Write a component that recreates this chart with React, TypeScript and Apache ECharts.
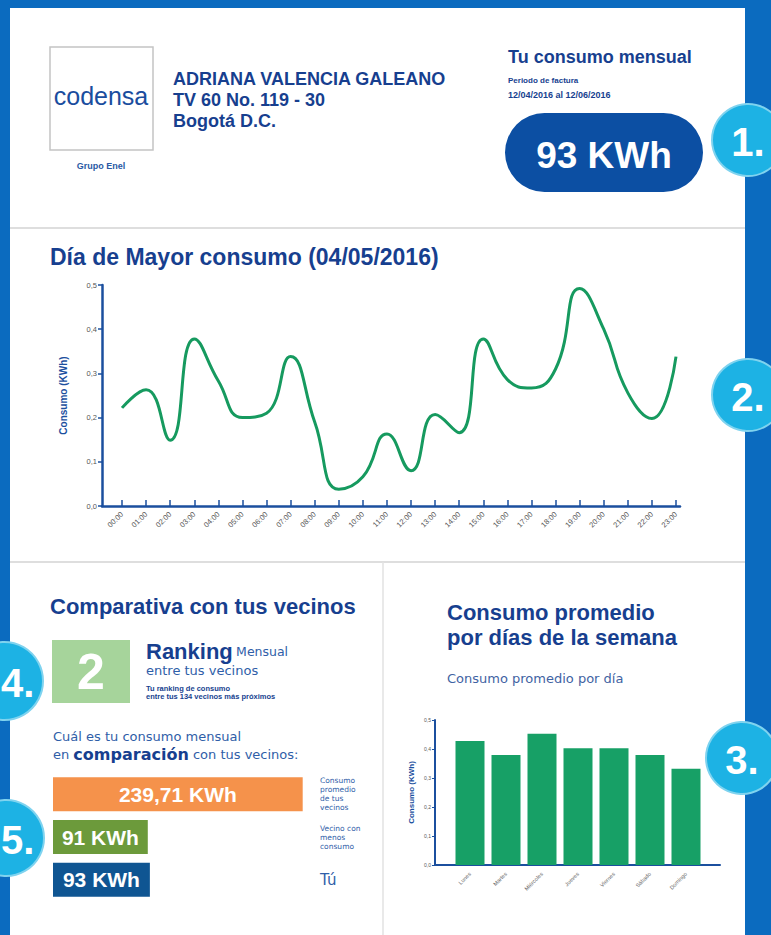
import React, { useEffect, useRef } from "react";
import * as echarts from "echarts";

// ---------- DATA ----------
const hours = [
  "00:00", "01:00", "02:00", "03:00", "04:00", "05:00", "06:00", "07:00",
  "08:00", "09:00", "10:00", "11:00", "12:00", "13:00", "14:00", "15:00",
  "16:00", "17:00", "18:00", "19:00", "20:00", "21:00", "22:00", "23:00",
];
const hourlyConsumption = [
  0.222, 0.263, 0.149, 0.378, 0.283, 0.2, 0.21, 0.338,
  0.19, 0.038, 0.066, 0.163, 0.08, 0.207, 0.166, 0.378,
  0.286, 0.267, 0.31, 0.492, 0.4, 0.256, 0.198, 0.338,
];
const weekDays = ["Lunes", "Martes", "Miércoles", "Jueves", "Viernes", "Sábado", "Domingo"];
const weekdayAverage = [0.428, 0.379, 0.453, 0.403, 0.403, 0.379, 0.332];
const comparisonLabels = ["Consumo\npromedio\nde tus\nvecinos", "Vecino con\nmenos\nconsumo", "Tú"];
const comparisonValues = [239.71, 91, 93];
const monthlyConsumption = "93 KWh";
const rankingPosition = "2";

// ---------- STYLES ----------
const TITLE = '"Liberation Sans", Arial, sans-serif';
const BODY = '"DejaVu Sans", "Liberation Sans", sans-serif';
const DARK = "#173f8f";
const MID = "#2f5ea8";
const FRAME = "#0b6bbf";
const CYAN = "#1db2e4";
const AXIS = "#1b4f9e";
const comparisonColors = ["#f5924b", "#6c9a3b", "#0f5592"];

const fmtComma = (v: number) => v.toFixed(1).replace(".", ",");

function txt(x: number, y: number, text: string, font: string, fill: string, align = "left", extra: any = {}) {
  return {
    type: "text",
    x,
    y,
    z: 10,
    style: { text, font, fill, align, verticalAlign: "middle", ...extra },
  };
}

function badge(cx: number, cy: number, r: number, label: string, tx?: number) {
  return [
    { type: "circle", z: 50, shape: { cx, cy, r }, style: { fill: CYAN, stroke: "#7fd3ef", lineWidth: 2 } },
    {
      type: "text",
      z: 51,
      x: tx === undefined ? cx : tx,
      y: cy + 2,
      style: {
        text: label,
        font: `bold 40px ${TITLE}`,
        fill: "#ffffff",
        align: tx === undefined ? "center" : "left",
        verticalAlign: "middle",
      },
    },
  ];
}

export default function App() {
  const ref = useRef<HTMLDivElement>(null);

  useEffect(() => {
    if (!ref.current) return;
    const chart = echarts.init(ref.current, undefined, { renderer: "svg" });

    const graphic: any[] = [
      { type: "rect", z: 0, shape: { x: 10, y: 8, width: 735, height: 940 }, style: { fill: "#ffffff" } },
      { type: "line", z: 1, shape: { x1: 10, y1: 228, x2: 745, y2: 228 }, style: { stroke: "#dedede", lineWidth: 2 } },
      { type: "line", z: 1, shape: { x1: 10, y1: 562, x2: 745, y2: 562 }, style: { stroke: "#dedede", lineWidth: 2 } },
      { type: "line", z: 1, shape: { x1: 383, y1: 562, x2: 383, y2: 935 }, style: { stroke: "#e2e2e2", lineWidth: 1.5 } },
      // logo
      { type: "rect", z: 2, shape: { x: 50, y: 47, width: 103, height: 103 }, style: { fill: "#fff", stroke: "#c4c4c4", lineWidth: 1.5 } },
      txt(101, 96, "codensa", `25px "Liberation Sans Narrow", ${TITLE}`, "#1a4d9e", "center"),
      txt(101, 166, "Grupo Enel", `bold 9px ${TITLE}`, "#2a5aa5", "center"),
      // address
      txt(173, 79, "ADRIANA VALENCIA GALEANO", `bold 18px ${TITLE}`, DARK),
      txt(173, 100, "TV 60 No. 119 - 30", `bold 18px ${TITLE}`, DARK),
      txt(173, 121, "Bogotá D.C.", `bold 18px ${TITLE}`, DARK),
      // monthly
      txt(508, 57, "Tu consumo mensual", `bold 18px ${TITLE}`, DARK),
      txt(508, 80, "Periodo de factura", `bold 8px ${TITLE}`, DARK),
      txt(508, 95, "12/04/2016 al 12/06/2016", `bold 9px ${TITLE}`, DARK),
      { type: "rect", z: 2, shape: { x: 505, y: 113, width: 198, height: 79, r: 39.5 }, style: { fill: "#0c4fa3" } },
      txt(604, 155, monthlyConsumption, `bold 37px ${TITLE}`, "#ffffff", "center"),
      // line chart title
      txt(50, 257, "Día de Mayor consumo (04/05/2016)", `bold 23px ${TITLE}`, DARK),
      // comparison block
      txt(50, 606, "Comparativa con tus vecinos", `bold 22px ${TITLE}`, DARK),
      { type: "rect", z: 2, shape: { x: 52, y: 640, width: 78, height: 63 }, style: { fill: "#a6d49b" } },
      txt(91, 672, rankingPosition, `bold 50px ${TITLE}`, "#ffffff", "center"),
      {
        type: "text",
        z: 10,
        x: 146,
        y: 651,
        style: {
          text: "{a|Ranking} {b|Mensual}",
          verticalAlign: "middle",
          rich: {
            a: { fontFamily: TITLE, fontWeight: "bold", fontSize: 22, fill: DARK, color: DARK },
            b: { fontFamily: BODY, fontSize: 12.5, fill: MID, color: MID },
          },
        },
      },
      txt(146, 670, "entre tus vecinos", `13px ${BODY}`, MID),
      txt(146, 688, "Tu ranking de consumo", `bold 7.5px ${TITLE}`, DARK),
      txt(146, 696, "entre tus 134 vecinos más próximos", `bold 7.5px ${TITLE}`, DARK),
      txt(53, 736, "Cuál es tu consumo mensual", `13px ${BODY}`, MID),
      {
        type: "text",
        z: 10,
        x: 53,
        y: 754,
        style: {
          text: "{n|en }{b|comparación}{n| con tus vecinos:}",
          verticalAlign: "middle",
          rich: {
            n: { fontFamily: BODY, fontSize: 13, fill: MID, color: MID },
            b: { fontFamily: BODY, fontWeight: "bold", fontSize: 16, fill: DARK, color: DARK },
          },
        },
      },
      // weekly block
      txt(447, 612, "Consumo promedio", `bold 22px ${TITLE}`, DARK),
      txt(447, 637, "por días de la semana", `bold 22px ${TITLE}`, DARK),
      txt(447, 678, "Consumo promedio por día", `13px ${BODY}`, "#3f63a3"),
      ...badge(748, 140, 36, "1."),
      ...badge(748, 395, 36, "2."),
      ...badge(742, 758, 36, "3."),
      ...badge(4, 681, 39, "4.", 1),
      ...badge(6, 838, 38, "5.", 1),
    ];

    const option: any = {
      animation: false,
      backgroundColor: FRAME,
      graphic,
      grid: [
        { left: 122, top: 285, width: 554, height: 221 },
        { left: 102, top: 285, width: 578, height: 221 },
        { left: 452, top: 720, width: 252, height: 145 },
        { left: 435, top: 720, width: 285, height: 145 },
        { left: 53, top: 773, width: 250, height: 128 },
      ],
      xAxis: [
        {
          gridIndex: 0,
          type: "category",
          data: hours,
          boundaryGap: false,
          axisLine: { show: false },
          axisTick: { show: true, inside: true, length: 6, lineStyle: { color: AXIS, width: 1.5 } },
          axisLabel: { interval: 0, rotate: 45, fontSize: 7.5, color: "#555", fontFamily: TITLE, margin: 7 },
          splitLine: { show: false },
        },
        {
          gridIndex: 1,
          type: "value",
          min: 0,
          max: 1,
          axisLine: { show: true, lineStyle: { color: AXIS, width: 2.5 } },
          axisTick: { show: false },
          axisLabel: { show: false },
          splitLine: { show: false },
        },
        {
          gridIndex: 2,
          type: "category",
          data: weekDays,
          axisLine: { show: false },
          axisTick: { show: false },
          axisLabel: { interval: 0, rotate: 45, fontSize: 5.5, color: "#666", fontFamily: TITLE, margin: 8 },
          splitLine: { show: false },
        },
        {
          gridIndex: 3,
          type: "value",
          min: 0,
          max: 1,
          axisLine: { show: true, lineStyle: { color: AXIS, width: 2 } },
          axisTick: { show: false },
          axisLabel: { show: false },
          splitLine: { show: false },
        },
        {
          gridIndex: 4,
          type: "value",
          min: 0,
          max: 240,
          show: false,
          splitLine: { show: false },
        },
      ],
      yAxis: [
        { gridIndex: 0, type: "value", min: 0, max: 0.5, show: false, splitLine: { show: false } },
        {
          gridIndex: 1,
          type: "value",
          min: 0,
          max: 0.5,
          interval: 0.1,
          name: "Consumo (KWh)",
          nameLocation: "middle",
          nameRotate: 90,
          nameGap: 34,
          nameTextStyle: { fontFamily: TITLE, fontWeight: "bold", fontSize: 10, color: AXIS },
          axisLine: { show: true, lineStyle: { color: AXIS, width: 2.5 } },
          axisTick: { show: true, length: 4, lineStyle: { color: AXIS, width: 1.5 } },
          axisLabel: { fontSize: 7.5, color: "#555", fontFamily: TITLE, margin: 5, formatter: fmtComma },
          splitLine: { show: false },
        },
        { gridIndex: 2, type: "value", min: 0, max: 0.5, show: false, splitLine: { show: false } },
        {
          gridIndex: 3,
          type: "value",
          min: 0,
          max: 0.5,
          interval: 0.1,
          name: "Consumo (KWh)",
          nameLocation: "middle",
          nameRotate: 90,
          nameGap: 20,
          nameTextStyle: { fontFamily: TITLE, fontWeight: "bold", fontSize: 8, color: AXIS },
          axisLine: { show: true, lineStyle: { color: AXIS, width: 2 } },
          axisTick: { show: true, length: 3, lineStyle: { color: AXIS, width: 1 } },
          axisLabel: { fontSize: 5, color: "#555", fontFamily: TITLE, margin: 4, formatter: fmtComma },
          splitLine: { show: false },
        },
        {
          gridIndex: 4,
          type: "category",
          data: comparisonLabels,
          inverse: true,
          position: "right",
          axisLine: { show: false },
          axisTick: { show: false },
          axisLabel: {
            margin: 17,
            align: "left",
            formatter: (v: string) => (v === "Tú" ? `{big|${v}}` : `{small|${v}}`),
            rich: {
              big: { fontFamily: BODY, fontSize: 15, color: MID },
              small: { fontFamily: BODY, fontSize: 7.5, lineHeight: 9, color: MID },
            },
          },
          splitLine: { show: false },
        },
      ],
      series: [
        {
          type: "line",
          xAxisIndex: 0,
          yAxisIndex: 0,
          data: hourlyConsumption,
          smooth: 0.5,
          showSymbol: false,
          lineStyle: { color: "#169a5f", width: 3 },
          z: 5,
        },
        {
          type: "bar",
          xAxisIndex: 2,
          yAxisIndex: 2,
          data: weekdayAverage,
          barWidth: 29,
          itemStyle: { color: "#17a066" },
        },
        {
          type: "bar",
          xAxisIndex: 4,
          yAxisIndex: 4,
          barWidth: 34,
          data: comparisonValues.map((v, i) => ({ value: v, itemStyle: { color: comparisonColors[i] } })),
          label: {
            show: true,
            position: "inside",
            color: "#ffffff",
            fontFamily: TITLE,
            fontWeight: "bold",
            fontSize: 21,
            formatter: (p: any) => `${String(p.value).replace(".", ",")} KWh`,
          },
        },
      ],
    };

    chart.setOption(option);
    return () => chart.dispose();
  }, []);

  return <div ref={ref} style={{ position: "absolute", left: 0, top: 0, width: 771, height: 935 }} />;
}
